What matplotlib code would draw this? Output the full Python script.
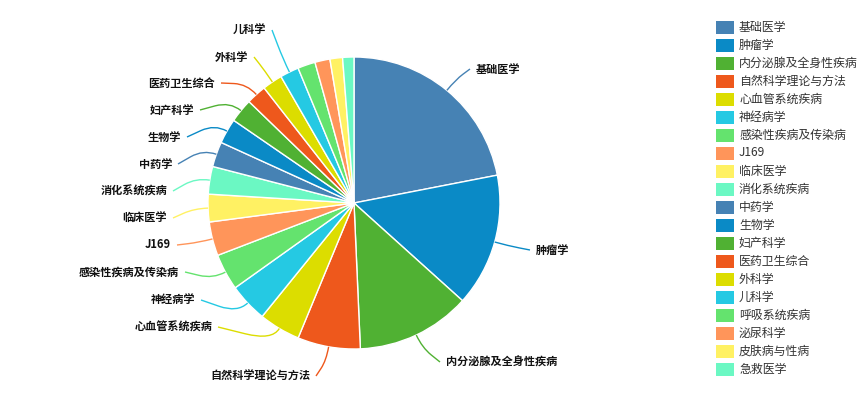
import numpy as np
import matplotlib.pyplot as plt
from matplotlib.path import Path
from matplotlib.patches import PathPatch, Rectangle

plt.rcParams['font.family'] = ['Noto Sans CJK SC', 'DejaVu Sans']

categories = ['基础医学', '肿瘤学', '内分泌腺及全身性疾病', '自然科学理论与方法', '心血管系统疾病',
              '神经病学', '感染性疾病及传染病', 'J169', '临床医学', '消化系统疾病',
              '中药学', '生物学', '妇产科学', '医药卫生综合', '外科学',
              '儿科学', '呼吸系统疾病', '泌尿科学', '皮肤病与性病', '急救医学']
counts = [158, 106, 91, 50, 33, 31, 29, 27, 22, 22, 20, 20, 19, 16, 16, 15, 14, 12, 10, 9]
palette = ['#4682b4', '#0a8ac6', '#50b133', '#ee581c', '#dcdd00',
           '#25c9e3', '#64e36e', '#ff955a', '#fff163', '#6bf8c3']
colors = [palette[i % len(palette)] for i in range(len(categories))]

# label layout: (y of label row, x where the leader line ends); None = hidden
label_layout = [(69, 470), (250, 530), (362, 440), (376, 316), (327, 218),
                (300, 201), (272, 185), (245, 177), (218, 173), (191, 173),
                (164, 178), (137, 187), (110, 200), (83, 221), (57, 254),
                (30, 272), None, None, None, None]

W, H = 868, 408
cx, cy, R = 354, 203, 146

fig = plt.figure(figsize=(W / 100, H / 100), dpi=100)
ax = fig.add_axes([0, 0, 1, 1])
ax.set_xlim(0, W)
ax.set_ylim(0, H)
ax.set_aspect('equal')
ax.axis('off')

wedges, _ = ax.pie(counts, colors=colors, center=(cx, H - cy), radius=R,
                   startangle=90, counterclock=False,
                   wedgeprops=dict(edgecolor='white', linewidth=1))
ax.set_xlim(0, W)
ax.set_ylim(0, H)

for w, name, lay in zip(wedges, categories, label_layout):
    if lay is None:
        continue
    mid = np.deg2rad((w.theta1 + w.theta2) / 2)
    dx, dy = np.cos(mid), np.sin(mid)
    p0 = (cx + R * dx, H - cy + R * dy)
    p1 = (cx + (R + 14) * dx, H - cy + (R + 14) * dy)
    ly, lx = lay
    p2 = (lx, H - ly)
    # smooth leader line: edge -> elbow -> label
    mid12 = ((p1[0] + p2[0]) / 2, (p1[1] + p2[1]) / 2)
    path = Path([p0, p1, mid12, p2],
                [Path.MOVETO, Path.CURVE3, Path.CURVE3, Path.LINETO])
    ax.add_patch(PathPatch(path, fill=False, edgecolor=w.get_facecolor(), lw=1))
    right = lx > cx
    ax.text(lx + (6 if right else -6), H - ly, name,
            ha='left' if right else 'right', va='center',
            fontsize=8, fontweight='bold', color='#111111')

# legend column
for i, (name, c) in enumerate(zip(categories, colors)):
    y = H - (27 + i * 18)
    ax.add_patch(Rectangle((716, y - 6.5), 18, 13, facecolor=c, edgecolor='none'))
    ax.text(739, y, name, ha='left', va='center', fontsize=8.6, color='#333333')

fig.savefig('out.png', dpi=100)
